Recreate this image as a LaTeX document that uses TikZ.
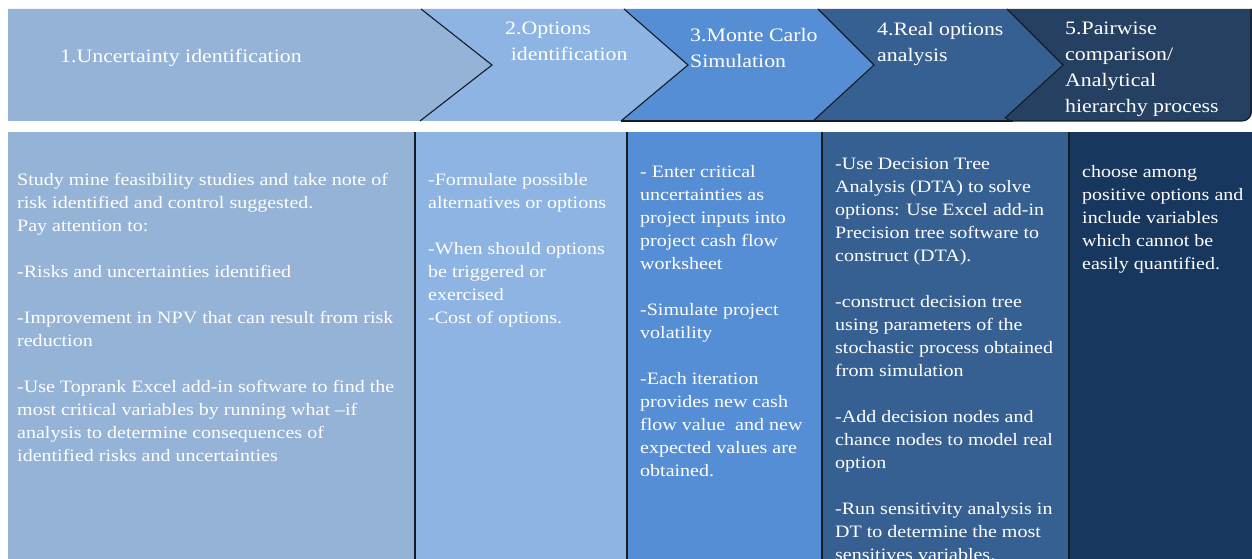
\documentclass[tikz,border=0pt]{standalone}
\usepackage{fontspec}
\setmainfont[FakeStretch=1.15]{Liberation Serif}
\definecolor{cOne}{HTML}{95B3D7}
\definecolor{cTwo}{HTML}{8DB4E2}
\definecolor{cThree}{HTML}{558ED5}
\definecolor{cFour}{HTML}{376092}
\definecolor{cFiveHead}{HTML}{254061}
\definecolor{cFive}{HTML}{17375E}
\definecolor{edgeDark}{HTML}{141C26}

\begin{document}
\begin{tikzpicture}[x=1pt,y=-1pt,
  headtext/.style={text=white, font=\rmfamily\fontsize{19}{26}\selectfont, align=left, inner sep=0pt, anchor=north west},
  bodytext/.style={text=white, font=\rmfamily\fontsize{17.4}{23}\selectfont, align=left, inner sep=0pt, anchor=north west},
  notchline/.style={draw=edgeDark, line width=1.1pt},
  bottomline/.style={draw=edgeDark, line width=1.1pt},
  divider/.style={draw=edgeDark, line width=1.2pt}]

\useasboundingbox (0,0) rectangle (1252,559);
\fill[white] (0,0) rectangle (1252,559);
\clip (0,0) rectangle (1252,559);

% ---------- header chevrons ----------
\fill[cOne] (8,9) -- (421,9) -- (492,65) -- (420,121) -- (8,121) -- cycle;
\fill[cTwo] (421,9) -- (624,9) -- (688,65) -- (621,121) -- (420,121) -- (492,65) -- cycle;
\fill[cThree] (624,9) -- (818,9) -- (874,65) -- (813,121) -- (621,121) -- (688,65) -- cycle;
\fill[cFour] (818,9) -- (1007,9) -- (1063,65) -- (1005,121) -- (813,121) -- (874,65) -- cycle;
\fill[cFiveHead]
  (1063,65) -- (1007,9) -- (1252,9) -- (1252,112) arc[start angle=0, end angle=90, radius=9] -- (1013,121)
  arc[start angle=90, end angle=135, radius=11] -- cycle;

% chevron edges
\draw[notchline] (421,9) -- (492,65) -- (420,121);
\draw[notchline] (624,9) -- (688,65) -- (621,121);
\draw[notchline] (818,9) -- (874,65) -- (813,121);
\draw[notchline] (1007,9) -- (1063,65) -- (1005.2,117.8) arc[start angle=135, end angle=90, radius=11]
  -- (1242,121) arc[start angle=90, end angle=0, radius=9] -- (1251,9);
\draw[bottomline] (621,121) -- (1013,121);

% ---------- header labels ----------
\node[headtext] (h1) at (60,49) {1.Uncertainty identification};
\node[headtext] (h2) at (505,22) {2.Options\\\hspace{0.3em}identification};
\node[headtext] (h3) at (690,28) {3.Monte Carlo\\Simulation};
\node[headtext] (h4) at (877,22) {4.Real options\\analysis};
\node[headtext] (h5) at (1065,22) {5.Pairwise\\comparison/\\Analytical\\hierarchy process};

% ---------- body columns ----------
\fill[cOne] (8,132) rectangle (415,560);
\fill[cTwo] (415,132) rectangle (627,560);
\fill[cThree] (627,132) rectangle (822,560);
\fill[cFour] (822,132) rectangle (1069,560);
\fill[cFive] (1069,132) rectangle (1252,560);
\draw[divider] (415,132) -- (415,560);
\draw[divider] (627,132) -- (627,560);
\draw[divider] (822,132) -- (822,560);
\draw[divider] (1069,132) -- (1069,560);

% ---------- body texts ----------
\node[bodytext] (b1) at (17,173) {Study mine feasibility studies and take note of\\
risk identified and control suggested.\\
Pay attention to:\\[23pt]
-Risks and uncertainties identified\\[23pt]
-Improvement in NPV that can result from risk\\
reduction\\[23pt]
-Use Toprank Excel add-in software to find the\\
most critical variables by running what –if\\
analysis to determine consequences of\\
identified risks and uncertainties};

\node[bodytext] (b2) at (428,173) {-Formulate possible\\
alternatives or options\\[23pt]
-When should options\\
be triggered or\\
exercised\\
-Cost of options.};

\node[bodytext] (b3) at (640,165.5) {- Enter critical\\
uncertainties as\\
project inputs into\\
project cash flow\\
worksheet\\[23pt]
-Simulate project\\
volatility\\[23pt]
-Each iteration\\
provides new cash\\
flow value\ \ and new\\
expected values are\\
obtained.};

\node[bodytext] (b4) at (835,157.5) {-Use Decision Tree\\
Analysis (DTA) to solve\\
options: Use Excel add-in\\
Precision tree software to\\
construct (DTA).\\[23pt]
-construct decision tree\\
using parameters of the\\
stochastic process obtained\\
from simulation\\[23pt]
-Add decision nodes and\\
chance nodes to model real\\
option\\[23pt]
-Run sensitivity analysis in\\
DT to determine the most\\
sensitives variables.};

\node[bodytext] (b5) at (1082,165) {choose among\\
positive options and\\
include variables\\
which cannot be\\
easily quantified.};

\end{tikzpicture}
\end{document}
